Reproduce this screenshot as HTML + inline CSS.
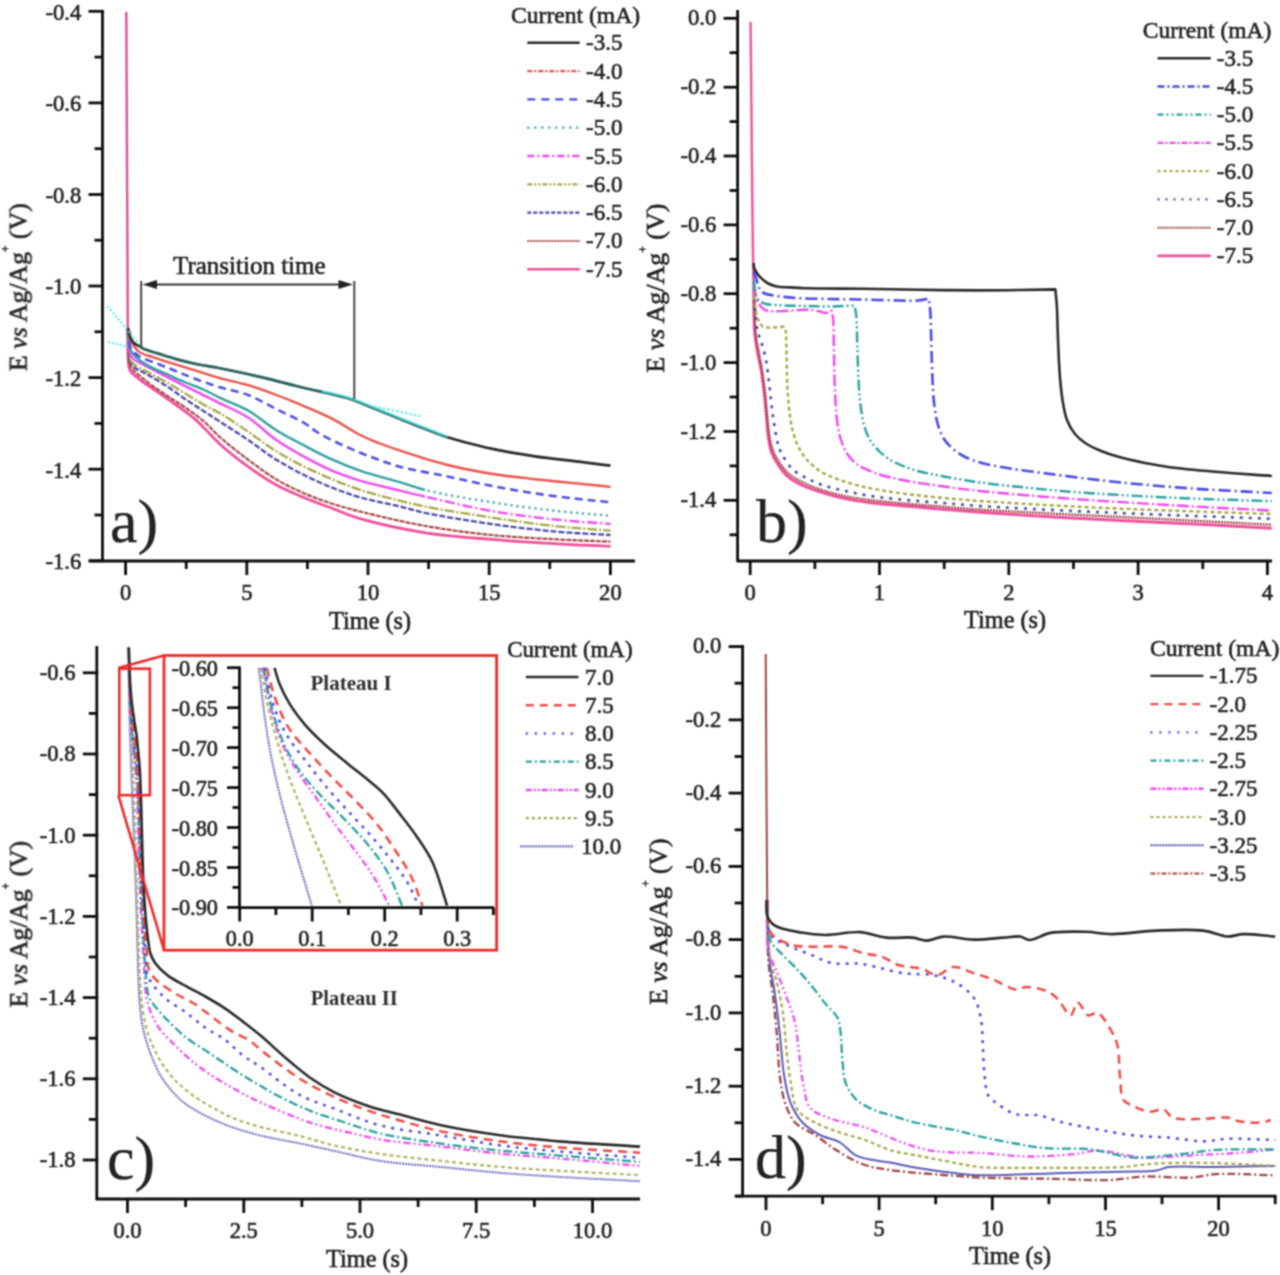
<!DOCTYPE html><html><head><meta charset="utf-8"><title>Chronopotentiometry</title>
<style>html,body{margin:0;padding:0;background:#fff;}svg{display:block;}text{font-family:"Liberation Serif", serif;stroke:#222;stroke-width:0.60px;}</style></head><body>
<svg width="1280" height="1275" viewBox="0 0 1280 1275">
<rect width="1280" height="1275" fill="#fff"/>
<defs><filter id="soft" filterUnits="userSpaceOnUse" x="0" y="0" width="1280" height="1275" color-interpolation-filters="sRGB"><feConvolveMatrix order="3" kernelMatrix="1 2 1 2 4 2 1 2 1" divisor="16" edgeMode="none"/></filter></defs>
<g filter="url(#soft)">
<line x1="102.5" y1="10.0" x2="102.5" y2="562.0" stroke="#0d0d0d" stroke-width="2.8"/>
<line x1="88.5" y1="11.3" x2="103.9" y2="11.3" stroke="#0d0d0d" stroke-width="2.8"/>
<line x1="88.5" y1="102.9" x2="103.9" y2="102.9" stroke="#0d0d0d" stroke-width="2.8"/>
<line x1="88.5" y1="194.5" x2="103.9" y2="194.5" stroke="#0d0d0d" stroke-width="2.8"/>
<line x1="88.5" y1="286.0" x2="103.9" y2="286.0" stroke="#0d0d0d" stroke-width="2.8"/>
<line x1="88.5" y1="377.6" x2="103.9" y2="377.6" stroke="#0d0d0d" stroke-width="2.8"/>
<line x1="88.5" y1="469.2" x2="103.9" y2="469.2" stroke="#0d0d0d" stroke-width="2.8"/>
<line x1="88.5" y1="560.8" x2="103.9" y2="560.8" stroke="#0d0d0d" stroke-width="2.8"/>
<line x1="94.5" y1="57.1" x2="102.5" y2="57.1" stroke="#0d0d0d" stroke-width="2.8"/>
<line x1="94.5" y1="148.7" x2="102.5" y2="148.7" stroke="#0d0d0d" stroke-width="2.8"/>
<line x1="94.5" y1="240.2" x2="102.5" y2="240.2" stroke="#0d0d0d" stroke-width="2.8"/>
<line x1="94.5" y1="331.8" x2="102.5" y2="331.8" stroke="#0d0d0d" stroke-width="2.8"/>
<line x1="94.5" y1="423.4" x2="102.5" y2="423.4" stroke="#0d0d0d" stroke-width="2.8"/>
<line x1="94.5" y1="515.0" x2="102.5" y2="515.0" stroke="#0d0d0d" stroke-width="2.8"/>
<text x="81.2" y="19.7" font-size="22.6" text-anchor="end" fill="#222">-0.4</text>
<text x="81.2" y="111.3" font-size="22.6" text-anchor="end" fill="#222">-0.6</text>
<text x="81.2" y="202.9" font-size="22.6" text-anchor="end" fill="#222">-0.8</text>
<text x="81.2" y="294.4" font-size="22.6" text-anchor="end" fill="#222">-1.0</text>
<text x="81.2" y="386.0" font-size="22.6" text-anchor="end" fill="#222">-1.2</text>
<text x="81.2" y="477.6" font-size="22.6" text-anchor="end" fill="#222">-1.4</text>
<text x="81.2" y="569.2" font-size="22.6" text-anchor="end" fill="#222">-1.6</text>
<line x1="89.0" y1="561.0" x2="635.0" y2="561.0" stroke="#0d0d0d" stroke-width="2.8"/>
<line x1="125.6" y1="561.0" x2="125.6" y2="575.0" stroke="#0d0d0d" stroke-width="2.8"/>
<line x1="246.8" y1="561.0" x2="246.8" y2="575.0" stroke="#0d0d0d" stroke-width="2.8"/>
<line x1="368.0" y1="561.0" x2="368.0" y2="575.0" stroke="#0d0d0d" stroke-width="2.8"/>
<line x1="489.2" y1="561.0" x2="489.2" y2="575.0" stroke="#0d0d0d" stroke-width="2.8"/>
<line x1="610.4" y1="561.0" x2="610.4" y2="575.0" stroke="#0d0d0d" stroke-width="2.8"/>
<line x1="186.2" y1="561.0" x2="186.2" y2="569.0" stroke="#0d0d0d" stroke-width="2.8"/>
<line x1="307.4" y1="561.0" x2="307.4" y2="569.0" stroke="#0d0d0d" stroke-width="2.8"/>
<line x1="428.6" y1="561.0" x2="428.6" y2="569.0" stroke="#0d0d0d" stroke-width="2.8"/>
<line x1="549.8" y1="561.0" x2="549.8" y2="569.0" stroke="#0d0d0d" stroke-width="2.8"/>
<text x="125.6" y="600.3" font-size="22.6" text-anchor="middle" fill="#222">0</text>
<text x="246.8" y="600.3" font-size="22.6" text-anchor="middle" fill="#222">5</text>
<text x="368.0" y="600.3" font-size="22.6" text-anchor="middle" fill="#222">10</text>
<text x="489.2" y="600.3" font-size="22.6" text-anchor="middle" fill="#222">15</text>
<text x="610.4" y="600.3" font-size="22.6" text-anchor="middle" fill="#222">20</text>
<text x="329.0" y="629.0" font-size="24.3" text-anchor="start" fill="#222">Time (s)</text>
<text transform="translate(26.7,287.1) rotate(-90)" font-size="25.8" text-anchor="middle" fill="#222">E <tspan font-style="italic">vs</tspan> Ag/Ag<tspan font-size="11.6" dy="-17.0">+</tspan><tspan dy="17.0"> (V)</tspan></text>
<text x="110.0" y="542.0" font-size="62.0" text-anchor="start" fill="#222" style="stroke-width:0.25px">a)</text>
<clipPath id="caL"><rect x="0" y="0" width="425" height="640"/></clipPath><clipPath id="caR"><rect x="425" y="0" width="215" height="640"/></clipPath>
<path d="M126.3,12 L127.2,200 L127.8,330" fill="none" stroke="#e44c98" stroke-width="2.4"/>
<path d="M127.8,328.0 C127.9,338.7 127.7,352.9 128.2,360.0 C128.4,363.6 128.5,365.8 129.2,368.0 C129.7,369.7 130.1,370.8 131.2,372.2 C132.9,374.3 135.6,376.3 138.8,378.8 C143.5,382.5 151.2,387.5 157.5,391.9 C163.7,396.3 170.0,400.5 176.2,405.0 C182.5,409.6 189.4,414.2 195.0,419.1 C200.2,423.6 204.6,428.7 209.0,433.1 C212.9,437.0 215.3,440.0 220.0,444.2 C227.1,450.6 238.6,459.8 248.1,466.7 C257.3,473.4 266.7,479.8 276.3,485.0 C285.5,490.0 295.2,493.9 304.4,497.7 C313.1,501.3 321.1,504.2 330.0,507.5 C339.6,511.1 347.9,515.1 360.0,518.6 C377.5,523.7 403.6,529.3 425.6,532.8 C447.4,536.2 469.4,537.6 491.3,539.4 C513.2,541.2 536.2,542.6 557.0,543.8 C575.7,544.9 592.7,545.5 610.5,546.4" fill="none" stroke="#f0509a" stroke-width="2.8" stroke-linejoin="round"/>
<path d="M127.8,328.0 C128.1,338.0 127.8,350.8 128.8,358.0 C129.4,362.1 129.3,364.3 131.2,367.5 C134.2,372.4 142.2,377.8 148.1,382.5 C154.1,387.2 160.6,391.4 166.9,395.6 C173.1,399.8 179.4,403.5 185.6,407.8 C191.9,412.2 198.6,416.9 204.4,421.9 C210.0,426.7 213.9,431.8 220.0,437.2 C227.9,444.2 238.6,452.6 248.1,459.7 C257.4,466.6 266.7,473.7 276.3,479.4 C285.5,484.9 295.1,489.4 304.4,493.4 C313.0,497.2 321.1,500.1 330.0,503.0 C339.5,506.1 348.0,508.5 360.0,511.5 C377.6,515.9 403.6,522.1 425.6,526.0 C447.4,529.9 469.4,532.8 491.3,535.0 C513.2,537.2 536.2,538.3 557.0,539.4 C575.7,540.4 592.7,540.9 610.5,541.6" fill="none" stroke="#a84848" stroke-width="2.2" stroke-dasharray="5 1" stroke-linejoin="round"/>
<path d="M127.8,328.0 C128.3,337.3 128.0,349.2 129.2,356.0 C129.9,360.1 130.0,362.8 132.2,365.6 C135.2,369.4 142.6,371.7 148.1,375.0 C154.1,378.6 160.7,382.2 166.9,386.2 C173.2,390.4 179.3,395.2 185.6,399.4 C191.8,403.6 198.4,407.7 204.4,411.6 C209.8,415.1 214.0,417.8 220.0,421.7 C228.0,426.9 238.8,433.7 248.1,440.0 C257.5,446.4 266.7,453.8 276.3,459.7 C285.5,465.4 294.9,470.5 304.4,475.2 C313.7,479.8 323.0,484.1 332.5,487.8 C341.8,491.5 350.4,494.6 360.6,497.5 C372.5,500.9 388.3,503.7 400.0,506.5 C409.5,508.8 415.0,510.8 425.6,513.0 C442.4,516.5 469.4,520.9 491.3,524.0 C513.2,527.1 536.2,529.8 557.0,531.7 C575.7,533.4 592.7,533.9 610.5,535.0" fill="none" stroke="#4a4aa8" stroke-width="2.3" stroke-dasharray="6 2" stroke-linejoin="round"/>
<path d="M127.8,328.0 C128.3,336.3 128.1,346.6 129.2,353.0 C129.9,357.1 129.9,359.9 132.2,362.8 C135.2,366.7 142.6,369.0 148.1,372.2 C154.1,375.6 160.7,378.9 166.9,382.5 C173.2,386.1 179.4,390.0 185.6,393.8 C191.9,397.5 198.4,401.6 204.4,405.0 C209.8,408.1 214.1,409.8 220.0,413.3 C228.1,418.1 238.8,425.3 248.1,431.6 C257.5,438.0 266.7,445.4 276.3,451.3 C285.5,457.0 294.9,462.0 304.4,466.7 C313.7,471.3 323.1,475.5 332.5,479.4 C341.8,483.3 351.2,486.9 360.6,490.0 C369.9,493.1 378.7,495.4 388.8,498.0 C400.2,501.0 411.5,503.8 425.6,506.6 C444.3,510.3 469.4,514.2 491.3,517.5 C513.2,520.8 536.2,524.1 557.0,526.3 C575.7,528.3 592.7,529.2 610.5,530.6" fill="none" stroke="#a6a648" stroke-width="2.3" stroke-dasharray="10 2 2 2" stroke-linejoin="round"/>
<path d="M127.8,328.0 C128.3,335.3 128.0,344.5 129.2,350.0 C129.9,353.4 130.3,355.8 132.2,358.1 C134.6,360.9 138.9,362.2 143.4,364.7 C149.8,368.2 159.5,373.1 166.9,376.9 C173.5,380.3 179.4,383.1 185.6,386.2 C191.9,389.4 198.4,392.6 204.4,395.6 C209.8,398.3 214.0,400.4 220.0,403.4 C228.0,407.4 239.0,411.7 248.1,417.5 C257.8,423.7 266.7,433.3 276.3,440.0 C285.5,446.4 294.9,451.7 304.4,456.9 C313.7,462.0 323.0,466.9 332.5,470.9 C341.7,474.8 350.4,477.7 360.6,480.8 C372.5,484.4 388.3,487.7 400.0,490.6 C409.4,492.9 415.1,494.3 425.6,496.7 C442.4,500.5 469.3,507.2 491.3,511.0 C513.1,514.8 536.2,517.5 557.0,519.7 C575.7,521.7 592.7,522.6 610.5,524.0" fill="none" stroke="#f048f0" stroke-width="2.4" stroke-linejoin="round" clip-path="url(#caL)"/>
<path d="M127.8,328.0 C128.3,335.3 128.0,344.5 129.2,350.0 C129.9,353.4 130.3,355.8 132.2,358.1 C134.6,360.9 138.9,362.2 143.4,364.7 C149.8,368.2 159.5,373.1 166.9,376.9 C173.5,380.3 179.4,383.1 185.6,386.2 C191.9,389.4 198.4,392.6 204.4,395.6 C209.8,398.3 214.0,400.4 220.0,403.4 C228.0,407.4 239.0,411.7 248.1,417.5 C257.8,423.7 266.7,433.3 276.3,440.0 C285.5,446.4 294.9,451.7 304.4,456.9 C313.7,462.0 323.0,466.9 332.5,470.9 C341.7,474.8 350.4,477.7 360.6,480.8 C372.5,484.4 388.3,487.7 400.0,490.6 C409.4,492.9 415.1,494.3 425.6,496.7 C442.4,500.5 469.3,507.2 491.3,511.0 C513.1,514.8 536.2,517.5 557.0,519.7 C575.7,521.7 592.7,522.6 610.5,524.0" fill="none" stroke="#f048f0" stroke-width="2.4" stroke-dasharray="10 3 2 3" stroke-linejoin="round" clip-path="url(#caR)"/>
<path d="M127.8,328.0 C128.3,334.0 127.8,341.1 129.2,346.0 C130.3,349.7 131.5,352.4 134.0,355.3 C137.2,359.1 142.9,362.6 148.1,365.6 C153.8,368.9 160.6,371.3 166.9,374.1 C173.1,376.9 179.3,379.8 185.6,382.5 C191.8,385.1 198.5,387.3 204.4,390.0 C209.9,392.5 214.0,394.9 220.0,397.8 C228.0,401.6 239.0,405.3 248.1,410.5 C257.8,416.0 266.7,424.3 276.3,430.2 C285.5,435.9 295.0,440.7 304.4,445.6 C313.7,450.5 323.0,455.5 332.5,459.7 C341.8,463.9 350.3,467.4 360.6,470.9 C372.5,475.0 388.3,478.7 400.0,482.2 C409.5,485.0 415.0,487.6 425.6,490.2 C442.3,494.3 469.4,498.7 491.3,502.2 C513.2,505.7 536.2,508.7 557.0,511.0 C575.7,513.1 592.7,514.2 610.5,515.8" fill="none" stroke="#32a0a0" stroke-width="2.4" stroke-linejoin="round" clip-path="url(#caL)"/>
<path d="M127.8,328.0 C128.3,334.0 127.8,341.1 129.2,346.0 C130.3,349.7 131.5,352.4 134.0,355.3 C137.2,359.1 142.9,362.6 148.1,365.6 C153.8,368.9 160.6,371.3 166.9,374.1 C173.1,376.9 179.3,379.8 185.6,382.5 C191.8,385.1 198.5,387.3 204.4,390.0 C209.9,392.5 214.0,394.9 220.0,397.8 C228.0,401.6 239.0,405.3 248.1,410.5 C257.8,416.0 266.7,424.3 276.3,430.2 C285.5,435.9 295.0,440.7 304.4,445.6 C313.7,450.5 323.0,455.5 332.5,459.7 C341.8,463.9 350.3,467.4 360.6,470.9 C372.5,475.0 388.3,478.7 400.0,482.2 C409.5,485.0 415.0,487.6 425.6,490.2 C442.3,494.3 469.4,498.7 491.3,502.2 C513.2,505.7 536.2,508.7 557.0,511.0 C575.7,513.1 592.7,514.2 610.5,515.8" fill="none" stroke="#32a0a0" stroke-width="2.4" stroke-dasharray="2 4" stroke-linejoin="round" clip-path="url(#caR)"/>
<path d="M127.8,328.0 C128.2,332.3 128.3,337.3 129.0,341.0 C129.6,343.9 129.8,346.4 131.2,348.8 C132.9,351.5 135.4,354.0 138.8,356.2 C143.4,359.3 151.2,361.2 157.5,363.8 C163.8,366.2 170.0,368.8 176.2,371.2 C182.5,373.8 188.3,376.3 195.0,378.8 C202.7,381.6 211.4,384.6 220.0,387.3 C229.1,390.1 238.9,391.5 248.1,395.0 C257.7,398.7 266.9,404.4 276.3,409.1 C285.7,413.8 296.8,418.5 304.4,423.1 C310.0,426.5 312.8,429.6 318.4,433.0 C326.0,437.6 337.1,442.8 346.6,447.0 C355.9,451.2 365.5,454.9 374.7,458.3 C383.3,461.5 390.2,464.1 400.0,466.7 C413.3,470.3 432.0,473.3 447.5,476.5 C462.4,479.6 476.7,483.0 491.3,485.8 C505.8,488.6 520.4,491.2 535.0,493.4 C549.6,495.6 565.4,497.5 578.8,499.0 C590.2,500.3 599.9,501.1 610.5,502.2" fill="none" stroke="#4f4fe0" stroke-width="2.6" stroke-dasharray="8 5" stroke-linejoin="round"/>
<path d="M127.8,328.0 C128.2,330.7 128.3,333.5 129.0,336.0 C129.7,338.5 130.8,340.7 132.2,343.1 C133.9,345.9 135.8,349.3 138.8,351.6 C142.3,354.3 147.5,355.3 152.8,357.2 C159.6,359.6 168.9,362.4 176.2,364.7 C182.8,366.7 188.3,368.3 195.0,370.3 C202.7,372.7 211.4,375.7 220.0,378.1 C229.1,380.7 238.8,382.4 248.1,385.2 C257.6,388.0 267.0,391.5 276.3,395.0 C285.7,398.5 295.1,402.3 304.4,406.3 C313.8,410.3 323.3,414.2 332.5,418.9 C342.0,423.8 352.0,430.9 360.6,435.2 C367.5,438.7 373.2,440.8 380.0,443.5 C387.5,446.4 394.6,448.9 403.8,451.9 C416.1,455.9 432.8,461.3 447.5,465.0 C462.0,468.6 476.7,471.4 491.3,473.8 C505.8,476.2 520.4,477.6 535.0,479.2 C549.6,480.8 565.4,482.2 578.8,483.6 C590.2,484.8 599.9,485.8 610.5,486.9" fill="none" stroke="#ec5048" stroke-width="2.4" stroke-linejoin="round"/>
<path d="M127.8,328.0 C128.1,329.0 128.4,329.8 128.8,331.0 C129.4,333.0 129.9,336.8 131.0,339.0 C131.9,340.8 133.1,342.3 134.5,343.5 C135.8,344.6 137.3,345.1 138.8,345.9 C140.3,346.8 141.4,347.8 143.4,348.8 C146.8,350.3 152.5,351.8 157.5,353.4 C163.3,355.2 170.0,357.4 176.2,359.1 C182.5,360.8 188.3,362.3 195.0,363.8 C202.7,365.4 210.6,366.4 220.0,368.3 C232.3,370.7 248.2,374.1 262.2,377.4 C276.3,380.7 290.3,384.6 304.4,388.0 C318.5,391.4 334.1,394.0 346.6,397.8 C357.0,401.0 365.3,404.9 374.7,408.6 C384.3,412.4 394.8,416.9 403.8,420.5 C411.6,423.6 418.3,426.2 425.6,429.0 C432.9,431.8 440.1,434.8 447.5,437.2 C454.9,439.6 462.6,441.6 470.0,443.5 C477.2,445.4 482.9,446.9 491.3,448.6 C503.2,451.1 520.4,454.1 535.0,456.3 C549.6,458.5 565.4,460.0 578.8,461.7 C590.2,463.1 599.9,464.4 610.5,465.7" fill="none" stroke="#2a2a2a" stroke-width="2.7" stroke-linejoin="round"/>
<path d="M107.8,306.4 L137,341.8" stroke="#50e6e6" stroke-width="2" stroke-dasharray="2 2" fill="none"/>
<path d="M107.8,341.8 L127,346.3" stroke="#50e6e6" stroke-width="2" stroke-dasharray="2 2" fill="none"/>
<path d="M138.8,345.9 C140.3,346.8 141.4,347.8 143.4,348.8 C146.8,350.3 152.5,351.8 157.5,353.4 C163.3,355.2 170.0,357.4 176.2,359.1 C182.5,360.8 188.3,362.3 195.0,363.8 C202.7,365.4 210.6,366.4 220.0,368.3 C232.3,370.7 248.2,374.1 262.2,377.4 C276.3,380.7 290.3,384.6 304.4,388.0 C318.5,391.4 334.1,394.0 346.6,397.8 C357.0,401.0 365.3,404.9 374.7,408.6 C384.3,412.4 394.8,416.9 403.8,420.5 C411.6,423.6 418.3,426.2 425.6,429.0 C432.9,431.8 440.2,434.5 447.5,437.2" fill="none" stroke="#1e9a96" stroke-width="2.2" stroke-opacity="0.55" stroke-linejoin="round"/>
<path d="M322.0,391.2 C330.2,393.1 338.2,394.4 346.6,397.0 C355.7,399.8 365.3,403.9 374.7,407.6 C384.3,411.4 394.8,415.9 403.8,419.5 C411.6,422.6 418.3,425.2 425.6,428.0 C432.9,430.8 440.2,433.7 447.5,436.5" fill="none" stroke="#48e2dc" stroke-width="2.0" stroke-opacity="0.85" stroke-linejoin="round"/>
<path d="M374,406.5 L420.4,416.3" stroke="#6ee8e4" stroke-width="2.2" stroke-dasharray="2.5 2" fill="none"/>
<line x1="141.2" y1="281" x2="141.2" y2="347" stroke="#333" stroke-width="1.8"/>
<line x1="354.3" y1="281" x2="354.3" y2="399" stroke="#333" stroke-width="1.8"/>
<line x1="150" y1="284.5" x2="346" y2="284.5" stroke="#333" stroke-width="1.8"/>
<path d="M142.5,284.5 L157,280 L157,289 Z" fill="#222"/>
<path d="M353,284.5 L338.5,280 L338.5,289 Z" fill="#222"/>
<text x="173.0" y="274.3" font-size="25.0" text-anchor="start" fill="#222">Transition time</text>
<text x="511.0" y="22.7" font-size="23.6" text-anchor="start" fill="#222">Current (mA)</text>
<line x1="527.3" y1="42.8" x2="579.7" y2="42.8" stroke="#2a2a2a" stroke-width="2.4"/>
<text x="586.0" y="50.3" font-size="23.0" text-anchor="start" fill="#222">-3.5</text>
<line x1="527.3" y1="71.1" x2="579.7" y2="71.1" stroke="#ec5048" stroke-width="2.2" stroke-dasharray="5 2 2 2"/>
<text x="586.0" y="78.6" font-size="23.0" text-anchor="start" fill="#222">-4.0</text>
<line x1="527.3" y1="99.4" x2="579.7" y2="99.4" stroke="#4a4ae6" stroke-width="2.4" stroke-dasharray="8 6"/>
<text x="586.0" y="106.9" font-size="23.0" text-anchor="start" fill="#222">-4.5</text>
<line x1="527.3" y1="127.7" x2="579.7" y2="127.7" stroke="#2aa0a0" stroke-width="2.2" stroke-dasharray="2 5"/>
<text x="586.0" y="135.2" font-size="23.0" text-anchor="start" fill="#222">-5.0</text>
<line x1="527.3" y1="156.0" x2="579.7" y2="156.0" stroke="#f048f0" stroke-width="2.4" stroke-dasharray="7 3 2 3"/>
<text x="586.0" y="163.5" font-size="23.0" text-anchor="start" fill="#222">-5.5</text>
<line x1="527.3" y1="184.3" x2="579.7" y2="184.3" stroke="#a6a648" stroke-width="2.2" stroke-dasharray="5 2 2 2 2 2"/>
<text x="586.0" y="191.8" font-size="23.0" text-anchor="start" fill="#222">-6.0</text>
<line x1="527.3" y1="212.6" x2="579.7" y2="212.6" stroke="#4848a8" stroke-width="2.4" stroke-dasharray="4 2"/>
<text x="586.0" y="220.1" font-size="23.0" text-anchor="start" fill="#222">-6.5</text>
<line x1="527.3" y1="240.9" x2="579.7" y2="240.9" stroke="#a04444" stroke-width="2.0" stroke-dasharray="2 1"/>
<text x="586.0" y="248.4" font-size="23.0" text-anchor="start" fill="#222">-7.0</text>
<line x1="527.3" y1="269.2" x2="579.7" y2="269.2" stroke="#f0509a" stroke-width="2.6"/>
<text x="586.0" y="276.7" font-size="23.0" text-anchor="start" fill="#222">-7.5</text>
<line x1="737.6" y1="10.0" x2="737.6" y2="562.0" stroke="#0d0d0d" stroke-width="2.8"/>
<line x1="723.6" y1="18.3" x2="739.0" y2="18.3" stroke="#0d0d0d" stroke-width="2.8"/>
<line x1="723.6" y1="87.2" x2="739.0" y2="87.2" stroke="#0d0d0d" stroke-width="2.8"/>
<line x1="723.6" y1="156.0" x2="739.0" y2="156.0" stroke="#0d0d0d" stroke-width="2.8"/>
<line x1="723.6" y1="224.9" x2="739.0" y2="224.9" stroke="#0d0d0d" stroke-width="2.8"/>
<line x1="723.6" y1="293.7" x2="739.0" y2="293.7" stroke="#0d0d0d" stroke-width="2.8"/>
<line x1="723.6" y1="362.6" x2="739.0" y2="362.6" stroke="#0d0d0d" stroke-width="2.8"/>
<line x1="723.6" y1="431.5" x2="739.0" y2="431.5" stroke="#0d0d0d" stroke-width="2.8"/>
<line x1="723.6" y1="500.3" x2="739.0" y2="500.3" stroke="#0d0d0d" stroke-width="2.8"/>
<line x1="729.6" y1="52.7" x2="737.6" y2="52.7" stroke="#0d0d0d" stroke-width="2.8"/>
<line x1="729.6" y1="121.6" x2="737.6" y2="121.6" stroke="#0d0d0d" stroke-width="2.8"/>
<line x1="729.6" y1="190.5" x2="737.6" y2="190.5" stroke="#0d0d0d" stroke-width="2.8"/>
<line x1="729.6" y1="259.3" x2="737.6" y2="259.3" stroke="#0d0d0d" stroke-width="2.8"/>
<line x1="729.6" y1="328.2" x2="737.6" y2="328.2" stroke="#0d0d0d" stroke-width="2.8"/>
<line x1="729.6" y1="397.0" x2="737.6" y2="397.0" stroke="#0d0d0d" stroke-width="2.8"/>
<line x1="729.6" y1="465.9" x2="737.6" y2="465.9" stroke="#0d0d0d" stroke-width="2.8"/>
<line x1="729.6" y1="534.8" x2="737.6" y2="534.8" stroke="#0d0d0d" stroke-width="2.8"/>
<text x="716.3" y="25.3" font-size="22.6" text-anchor="end" fill="#222">0.0</text>
<text x="716.3" y="94.2" font-size="22.6" text-anchor="end" fill="#222">-0.2</text>
<text x="716.3" y="163.0" font-size="22.6" text-anchor="end" fill="#222">-0.4</text>
<text x="716.3" y="231.9" font-size="22.6" text-anchor="end" fill="#222">-0.6</text>
<text x="716.3" y="300.7" font-size="22.6" text-anchor="end" fill="#222">-0.8</text>
<text x="716.3" y="369.6" font-size="22.6" text-anchor="end" fill="#222">-1.0</text>
<text x="716.3" y="438.5" font-size="22.6" text-anchor="end" fill="#222">-1.2</text>
<text x="716.3" y="507.3" font-size="22.6" text-anchor="end" fill="#222">-1.4</text>
<line x1="737.0" y1="561.0" x2="1272.0" y2="561.0" stroke="#0d0d0d" stroke-width="2.8"/>
<line x1="750.2" y1="561.0" x2="750.2" y2="575.0" stroke="#0d0d0d" stroke-width="2.8"/>
<line x1="879.5" y1="561.0" x2="879.5" y2="575.0" stroke="#0d0d0d" stroke-width="2.8"/>
<line x1="1008.8" y1="561.0" x2="1008.8" y2="575.0" stroke="#0d0d0d" stroke-width="2.8"/>
<line x1="1138.1" y1="561.0" x2="1138.1" y2="575.0" stroke="#0d0d0d" stroke-width="2.8"/>
<line x1="1267.4" y1="561.0" x2="1267.4" y2="575.0" stroke="#0d0d0d" stroke-width="2.8"/>
<line x1="814.9" y1="561.0" x2="814.9" y2="569.0" stroke="#0d0d0d" stroke-width="2.8"/>
<line x1="944.2" y1="561.0" x2="944.2" y2="569.0" stroke="#0d0d0d" stroke-width="2.8"/>
<line x1="1073.5" y1="561.0" x2="1073.5" y2="569.0" stroke="#0d0d0d" stroke-width="2.8"/>
<line x1="1202.8" y1="561.0" x2="1202.8" y2="569.0" stroke="#0d0d0d" stroke-width="2.8"/>
<text x="750.2" y="600.3" font-size="22.6" text-anchor="middle" fill="#222">0</text>
<text x="879.5" y="600.3" font-size="22.6" text-anchor="middle" fill="#222">1</text>
<text x="1008.8" y="600.3" font-size="22.6" text-anchor="middle" fill="#222">2</text>
<text x="1138.1" y="600.3" font-size="22.6" text-anchor="middle" fill="#222">3</text>
<text x="1267.4" y="600.3" font-size="22.6" text-anchor="middle" fill="#222">4</text>
<text x="964.0" y="627.5" font-size="24.3" text-anchor="start" fill="#222">Time (s)</text>
<text transform="translate(664.2,288.2) rotate(-90)" font-size="26.0" text-anchor="middle" fill="#222">E <tspan font-style="italic">vs</tspan> Ag/Ag<tspan font-size="11.7" dy="-17.2">+</tspan><tspan dy="17.2"> (V)</tspan></text>
<text x="756.0" y="542.0" font-size="62.0" text-anchor="start" fill="#222" style="stroke-width:0.25px">b)</text>
<path d="M750.6,22 L752.3,200 L753.6,300 L754.2,330" fill="none" stroke="#f0509a" stroke-width="2.4"/>
<path d="M754.0,300.0 C754.3,311.7 754.2,325.4 755.0,335.0 C755.6,341.7 756.5,346.1 757.5,352.0 C758.6,358.4 760.4,365.1 761.5,372.0 C762.7,379.4 763.6,386.8 764.5,395.0 C765.5,404.3 766.4,416.7 767.2,425.0 C767.8,430.9 768.0,435.3 768.8,440.0 C769.5,444.2 770.2,448.3 771.5,452.0 C772.8,455.5 774.2,458.4 776.4,461.9 C779.2,466.3 782.9,472.1 787.4,476.1 C792.0,480.2 797.8,483.2 803.8,486.0 C810.4,489.1 818.3,491.4 825.6,493.6 C832.8,495.8 840.2,497.6 847.5,499.1 C854.8,500.6 861.5,501.4 869.4,502.4 C878.7,503.6 889.1,504.6 900.0,505.6 C912.4,506.8 926.7,507.9 940.0,509.0 C953.3,510.1 964.8,511.2 980.0,512.3 C1000.1,513.8 1026.6,515.4 1050.0,516.8 C1073.6,518.2 1096.7,519.3 1121.0,520.5 C1146.6,521.8 1174.3,523.0 1200.0,524.3 C1224.5,525.6 1247.9,526.9 1271.8,528.2" fill="none" stroke="#f0509a" stroke-width="3.0" stroke-linejoin="round"/>
<path d="M754.0,300.0 C754.5,311.0 754.5,323.8 755.5,333.0 C756.2,339.6 757.5,344.1 758.5,350.0 C759.6,356.4 760.9,362.9 762.0,370.0 C763.2,377.9 764.3,386.5 765.3,395.0 C766.3,403.8 767.0,414.3 767.8,422.0 C768.4,427.7 768.8,432.3 769.6,437.0 C770.4,441.2 771.1,445.3 772.5,449.0 C773.8,452.6 775.2,455.5 777.4,459.0 C780.2,463.5 783.9,469.3 788.4,473.3 C793.0,477.4 798.9,480.4 804.8,483.3 C811.2,486.4 818.5,488.9 825.6,491.1 C832.7,493.3 840.2,495.1 847.5,496.6 C854.8,498.1 861.5,498.9 869.4,499.9 C878.7,501.1 889.1,502.1 900.0,503.1 C912.4,504.3 926.7,505.3 940.0,506.4 C953.3,507.5 964.8,508.6 980.0,509.6 C1000.1,511.0 1026.6,512.3 1050.0,513.5 C1073.6,514.7 1096.7,515.8 1121.0,517.0 C1146.6,518.3 1174.3,519.7 1200.0,521.0 C1224.5,522.3 1247.9,523.5 1271.8,524.7" fill="none" stroke="#9a3c3c" stroke-width="2.2" stroke-dasharray="2 1" stroke-linejoin="round"/>
<path d="M753.8,290.0 C754.7,301.7 755.2,316.7 756.5,325.0 C757.2,329.7 758.0,332.5 759.0,336.0 C760.0,339.3 761.3,342.0 762.4,345.6 C763.7,349.9 765.0,354.9 766.0,360.0 C767.1,365.6 767.7,371.7 768.5,378.0 C769.4,385.0 770.1,392.8 771.0,400.0 C771.8,406.8 772.5,413.6 773.5,420.0 C774.4,425.9 775.5,432.1 776.5,437.0 C777.2,440.7 777.6,443.6 778.6,446.6 C779.5,449.3 780.3,451.3 781.9,454.2 C784.3,458.5 788.3,465.3 792.8,469.5 C797.4,473.7 803.6,476.6 809.2,479.4 C814.6,482.1 819.7,484.1 825.6,486.0 C832.3,488.2 840.2,489.8 847.5,491.4 C854.8,493.0 861.7,494.6 869.4,495.8 C878.0,497.2 886.6,498.1 896.8,499.1 C909.6,500.4 925.9,501.6 940.0,502.8 C953.6,503.9 963.9,504.9 980.0,506.0 C1004.7,507.6 1042.7,509.5 1074.0,511.0 C1105.3,512.5 1135.9,513.7 1168.0,515.0 C1201.7,516.3 1237.2,517.5 1271.8,518.8" fill="none" stroke="#4848a8" stroke-width="2.6" stroke-dasharray="3 6" stroke-linejoin="round"/>
<path d="M753.8,290.0 C754.6,297.6 754.9,307.3 756.1,312.9 C756.8,316.2 757.5,318.3 758.7,320.6 C759.8,322.8 760.9,325.5 763.0,326.7 C765.3,328.0 769.2,327.5 772.5,327.5 C776.1,327.5 780.0,327.0 783.7,326.7 C784.3,327.8 785.1,328.4 785.5,330.0 C786.4,333.1 786.1,338.8 786.3,345.0 C786.7,355.1 786.7,373.0 787.3,385.0 C787.8,394.9 788.4,403.7 789.5,412.0 C790.4,419.2 791.3,425.8 793.0,432.0 C794.6,437.7 796.4,443.1 799.0,448.0 C801.5,452.7 804.4,457.1 808.0,461.0 C811.8,465.1 816.5,468.9 821.6,472.0 C827.1,475.3 833.7,477.7 840.0,480.0 C846.5,482.4 853.1,484.3 860.0,486.0 C867.3,487.8 874.8,489.1 882.7,490.5 C891.4,492.0 900.4,493.3 910.0,494.5 C920.7,495.8 932.4,496.9 943.9,498.0 C955.7,499.1 965.1,499.9 980.0,501.0 C1004.0,502.7 1042.7,504.9 1074.0,506.5 C1105.3,508.1 1135.9,509.3 1168.0,510.5 C1201.7,511.8 1237.2,512.8 1271.8,514.0" fill="none" stroke="#a6a648" stroke-width="2.4" stroke-dasharray="4 3" stroke-linejoin="round"/>
<path d="M753.8,285.0 C754.9,290.0 755.7,296.4 757.0,300.0 C757.8,302.2 758.4,303.5 759.6,305.1 C761.1,307.0 762.9,309.2 765.6,310.3 C769.4,311.8 775.3,311.1 781.2,311.1 C788.9,311.1 800.8,309.5 808.0,309.8 C812.8,310.0 816.7,310.9 820.0,311.5 C822.4,312.0 824.1,313.2 826.0,313.0 C827.9,312.8 829.7,311.3 831.5,310.5 C832.0,313.0 832.6,314.7 833.0,318.0 C833.7,324.2 833.5,335.1 833.8,345.0 C834.1,357.0 834.2,372.1 834.8,385.0 C835.3,397.1 835.7,410.0 837.0,420.0 C838.0,427.6 839.0,433.9 841.0,440.0 C842.8,445.5 845.0,450.7 848.0,455.0 C850.8,459.0 854.3,462.3 858.0,465.0 C861.6,467.6 865.9,469.3 870.0,471.0 C874.1,472.8 877.6,474.0 882.7,475.5 C890.0,477.6 900.4,479.7 910.0,481.5 C920.7,483.5 932.4,484.9 943.9,486.5 C955.7,488.1 965.1,489.4 980.0,491.0 C1004.0,493.5 1042.7,496.7 1074.0,499.0 C1105.3,501.3 1135.9,503.1 1168.0,505.0 C1201.7,507.0 1237.2,508.7 1271.8,510.6" fill="none" stroke="#f048f0" stroke-width="2.4" stroke-dasharray="12 3 2 3" stroke-linejoin="round"/>
<path d="M753.8,280.0 C754.4,284.0 754.7,288.6 755.5,292.0 C756.1,294.7 756.5,297.1 757.9,299.0 C759.3,300.9 761.4,302.4 763.9,303.4 C767.3,304.7 771.6,304.7 776.8,305.1 C784.9,305.8 798.5,305.8 808.0,306.0 C816.0,306.2 822.5,306.6 830.0,306.5 C837.9,306.4 846.3,305.8 854.5,305.5 C855.1,308.7 855.8,310.9 856.2,315.0 C857.0,322.2 856.9,334.6 857.3,345.0 C857.7,356.2 857.9,369.3 858.5,380.0 C859.0,389.0 859.5,397.2 860.5,405.0 C861.4,412.1 862.3,418.9 864.0,425.0 C865.5,430.4 867.3,435.5 870.0,440.0 C872.7,444.5 876.3,448.5 880.0,452.0 C883.6,455.5 887.9,458.6 892.0,461.0 C895.7,463.2 899.0,464.4 903.1,466.0 C908.1,467.9 913.8,469.9 920.0,471.5 C927.2,473.4 935.1,474.8 943.9,476.5 C954.7,478.5 967.0,480.7 980.0,482.5 C995.3,484.6 1013.9,486.4 1030.0,488.0 C1045.1,489.5 1056.6,490.7 1074.0,492.0 C1099.4,493.9 1135.9,496.0 1168.0,497.5 C1201.7,499.1 1237.2,500.0 1271.8,501.2" fill="none" stroke="#2aa0a0" stroke-width="2.4" stroke-dasharray="11 3 2 3 2 3" stroke-linejoin="round"/>
<path d="M753.6,272.0 C754.4,274.1 755.2,275.9 756.1,278.3 C757.2,281.3 758.0,286.1 759.6,288.7 C760.8,290.6 761.9,291.9 763.9,293.0 C766.9,294.7 771.9,295.2 776.8,296.0 C783.0,297.0 790.5,297.7 798.4,298.2 C807.9,298.8 819.4,298.8 830.0,299.0 C840.7,299.2 851.1,299.3 862.3,299.5 C874.4,299.8 889.7,300.4 900.0,300.5 C907.1,300.6 912.8,301.0 918.0,300.5 C922.0,300.1 925.1,299.2 928.6,298.5 C929.1,302.3 929.8,305.3 930.2,310.0 C930.9,317.6 930.9,329.6 931.2,340.0 C931.6,351.2 931.8,363.8 932.3,375.0 C932.8,385.4 933.2,396.0 934.3,405.0 C935.2,412.4 936.2,419.0 938.0,425.0 C939.6,430.2 941.4,434.9 944.0,439.0 C946.5,442.8 949.6,446.1 953.0,449.0 C956.4,451.9 960.1,454.3 964.3,456.5 C969.0,458.9 973.8,460.7 980.0,462.5 C988.3,464.9 999.2,466.7 1010.0,468.5 C1022.5,470.6 1037.2,472.2 1050.6,474.0 C1063.8,475.7 1077.6,477.5 1090.0,479.0 C1101.0,480.3 1108.7,481.3 1121.2,482.5 C1140.0,484.4 1167.5,486.8 1191.8,488.5 C1217.6,490.3 1245.1,491.5 1271.8,493.0" fill="none" stroke="#4a4ae6" stroke-width="2.6" stroke-dasharray="12 4 2 4" stroke-linejoin="round"/>
<path d="M753.5,263.0 C753.7,264.7 753.7,266.4 754.2,268.0 C754.7,269.6 755.6,271.1 756.5,272.5 C757.4,273.9 758.2,275.2 759.6,276.6 C761.7,278.7 765.2,281.8 768.2,283.5 C770.9,285.0 773.6,285.8 776.8,286.5 C780.6,287.3 785.1,287.1 789.8,287.4 C795.4,287.7 800.3,288.1 808.0,288.3 C821.3,288.7 843.9,288.6 862.3,288.8 C881.2,289.1 900.6,289.5 920.0,289.8 C939.8,290.1 962.0,290.4 980.0,290.4 C994.7,290.4 1007.1,290.2 1020.0,290.0 C1032.1,289.8 1043.5,289.6 1055.3,289.4 C1055.8,294.6 1056.4,298.8 1056.8,305.0 C1057.4,314.3 1057.5,328.1 1058.0,340.0 C1058.5,352.3 1059.1,366.7 1060.0,377.6 C1060.7,386.0 1061.3,392.8 1062.5,400.0 C1063.7,406.9 1064.7,414.1 1067.0,420.0 C1069.0,425.3 1071.7,430.0 1075.0,434.0 C1078.1,437.8 1081.8,440.8 1085.9,443.5 C1090.1,446.3 1094.7,448.3 1100.0,450.5 C1106.3,453.1 1113.9,455.5 1121.2,457.6 C1128.9,459.7 1137.1,461.4 1145.0,463.0 C1152.8,464.5 1159.1,465.8 1168.2,467.0 C1181.1,468.8 1198.9,470.4 1215.3,471.8 C1233.3,473.4 1253.0,474.6 1271.8,476.0" fill="none" stroke="#2a2a2a" stroke-width="2.6" stroke-linejoin="round"/>
<text x="1142.8" y="38.4" font-size="23.5" text-anchor="start" fill="#222">Current (mA)</text>
<line x1="1157.5" y1="58.2" x2="1210.8" y2="58.2" stroke="#2a2a2a" stroke-width="2.4"/>
<text x="1216.8" y="65.7" font-size="23.0" text-anchor="start" fill="#222">-3.5</text>
<line x1="1157.5" y1="86.5" x2="1210.8" y2="86.5" stroke="#4a4ae6" stroke-width="2.4" stroke-dasharray="7 3 2 3"/>
<text x="1216.8" y="94.0" font-size="23.0" text-anchor="start" fill="#222">-4.5</text>
<line x1="1157.5" y1="114.7" x2="1210.8" y2="114.7" stroke="#2aa0a0" stroke-width="2.2" stroke-dasharray="6 3 2 3 2 3"/>
<text x="1216.8" y="122.2" font-size="23.0" text-anchor="start" fill="#222">-5.0</text>
<line x1="1157.5" y1="142.9" x2="1210.8" y2="142.9" stroke="#f048f0" stroke-width="2.4" stroke-dasharray="6 2 2 2"/>
<text x="1216.8" y="150.4" font-size="23.0" text-anchor="start" fill="#222">-5.5</text>
<line x1="1157.5" y1="171.2" x2="1210.8" y2="171.2" stroke="#a6a648" stroke-width="2.2" stroke-dasharray="3 3"/>
<text x="1216.8" y="178.7" font-size="23.0" text-anchor="start" fill="#222">-6.0</text>
<line x1="1157.5" y1="199.4" x2="1210.8" y2="199.4" stroke="#4848a8" stroke-width="2.4" stroke-dasharray="2 6"/>
<text x="1216.8" y="206.9" font-size="23.0" text-anchor="start" fill="#222">-6.5</text>
<line x1="1157.5" y1="227.7" x2="1210.8" y2="227.7" stroke="#a04444" stroke-width="2.0" stroke-dasharray="2 1"/>
<text x="1216.8" y="235.2" font-size="23.0" text-anchor="start" fill="#222">-7.0</text>
<line x1="1157.5" y1="255.9" x2="1210.8" y2="255.9" stroke="#f0509a" stroke-width="2.8"/>
<text x="1216.8" y="263.4" font-size="23.0" text-anchor="start" fill="#222">-7.5</text>
<line x1="96.8" y1="646.0" x2="96.8" y2="1200.0" stroke="#0d0d0d" stroke-width="2.8"/>
<line x1="82.8" y1="672.8" x2="98.2" y2="672.8" stroke="#0d0d0d" stroke-width="2.8"/>
<line x1="82.8" y1="754.0" x2="98.2" y2="754.0" stroke="#0d0d0d" stroke-width="2.8"/>
<line x1="82.8" y1="835.2" x2="98.2" y2="835.2" stroke="#0d0d0d" stroke-width="2.8"/>
<line x1="82.8" y1="916.4" x2="98.2" y2="916.4" stroke="#0d0d0d" stroke-width="2.8"/>
<line x1="82.8" y1="997.6" x2="98.2" y2="997.6" stroke="#0d0d0d" stroke-width="2.8"/>
<line x1="82.8" y1="1078.8" x2="98.2" y2="1078.8" stroke="#0d0d0d" stroke-width="2.8"/>
<line x1="82.8" y1="1160.0" x2="98.2" y2="1160.0" stroke="#0d0d0d" stroke-width="2.8"/>
<line x1="88.8" y1="713.4" x2="96.8" y2="713.4" stroke="#0d0d0d" stroke-width="2.8"/>
<line x1="88.8" y1="794.6" x2="96.8" y2="794.6" stroke="#0d0d0d" stroke-width="2.8"/>
<line x1="88.8" y1="875.8" x2="96.8" y2="875.8" stroke="#0d0d0d" stroke-width="2.8"/>
<line x1="88.8" y1="957.0" x2="96.8" y2="957.0" stroke="#0d0d0d" stroke-width="2.8"/>
<line x1="88.8" y1="1038.2" x2="96.8" y2="1038.2" stroke="#0d0d0d" stroke-width="2.8"/>
<line x1="88.8" y1="1119.4" x2="96.8" y2="1119.4" stroke="#0d0d0d" stroke-width="2.8"/>
<text x="75.5" y="680.2" font-size="22.6" text-anchor="end" fill="#222">-0.6</text>
<text x="75.5" y="761.4" font-size="22.6" text-anchor="end" fill="#222">-0.8</text>
<text x="75.5" y="842.6" font-size="22.6" text-anchor="end" fill="#222">-1.0</text>
<text x="75.5" y="923.8" font-size="22.6" text-anchor="end" fill="#222">-1.2</text>
<text x="75.5" y="1005.0" font-size="22.6" text-anchor="end" fill="#222">-1.4</text>
<text x="75.5" y="1086.2" font-size="22.6" text-anchor="end" fill="#222">-1.6</text>
<text x="75.5" y="1167.4" font-size="22.6" text-anchor="end" fill="#222">-1.8</text>
<line x1="96.0" y1="1199.0" x2="640.0" y2="1199.0" stroke="#0d0d0d" stroke-width="2.8"/>
<line x1="127.5" y1="1199.0" x2="127.5" y2="1213.0" stroke="#0d0d0d" stroke-width="2.8"/>
<line x1="243.8" y1="1199.0" x2="243.8" y2="1213.0" stroke="#0d0d0d" stroke-width="2.8"/>
<line x1="360.0" y1="1199.0" x2="360.0" y2="1213.0" stroke="#0d0d0d" stroke-width="2.8"/>
<line x1="476.2" y1="1199.0" x2="476.2" y2="1213.0" stroke="#0d0d0d" stroke-width="2.8"/>
<line x1="592.5" y1="1199.0" x2="592.5" y2="1213.0" stroke="#0d0d0d" stroke-width="2.8"/>
<line x1="185.6" y1="1199.0" x2="185.6" y2="1207.0" stroke="#0d0d0d" stroke-width="2.8"/>
<line x1="301.9" y1="1199.0" x2="301.9" y2="1207.0" stroke="#0d0d0d" stroke-width="2.8"/>
<line x1="418.1" y1="1199.0" x2="418.1" y2="1207.0" stroke="#0d0d0d" stroke-width="2.8"/>
<line x1="534.4" y1="1199.0" x2="534.4" y2="1207.0" stroke="#0d0d0d" stroke-width="2.8"/>
<text x="127.5" y="1238.3" font-size="22.6" text-anchor="middle" fill="#222">0.0</text>
<text x="243.8" y="1238.3" font-size="22.6" text-anchor="middle" fill="#222">2.5</text>
<text x="360.0" y="1238.3" font-size="22.6" text-anchor="middle" fill="#222">5.0</text>
<text x="476.2" y="1238.3" font-size="22.6" text-anchor="middle" fill="#222">7.5</text>
<text x="592.5" y="1238.3" font-size="22.6" text-anchor="middle" fill="#222">10.0</text>
<text x="326.0" y="1267.3" font-size="24.3" text-anchor="start" fill="#222">Time (s)</text>
<text transform="translate(27.2,924.2) rotate(-90)" font-size="25.6" text-anchor="middle" fill="#222">E <tspan font-style="italic">vs</tspan> Ag/Ag<tspan font-size="11.5" dy="-16.9">+</tspan><tspan dy="16.9"> (V)</tspan></text>
<text x="107.0" y="1179.0" font-size="62.0" text-anchor="start" fill="#222" style="stroke-width:0.25px">c)</text>
<path d="M128.8,647.5 C128.8,656.0 128.7,664.8 128.7,672.9 C128.8,680.2 128.9,686.9 129.0,693.8 C129.2,700.5 129.3,706.8 129.4,713.7 C129.6,721.1 129.8,729.1 130.0,736.6 C130.3,744.0 130.6,751.7 130.8,758.6 C131.0,764.6 131.2,769.8 131.4,775.5 C131.7,781.4 131.8,785.4 132.1,793.7 C132.8,811.8 134.6,855.1 135.5,880.0 C136.2,898.9 136.5,913.8 137.0,930.0 C137.4,945.4 137.7,961.5 138.2,975.0 C138.6,986.0 139.1,996.4 139.8,1005.0 C140.4,1011.5 140.9,1016.7 141.8,1022.0 C142.6,1026.8 143.5,1031.0 144.7,1035.6 C146.0,1040.5 147.4,1045.3 149.4,1050.7 C151.9,1057.3 155.4,1066.1 158.8,1072.4 C161.7,1077.8 164.5,1081.9 168.2,1086.5 C172.3,1091.6 177.4,1097.3 182.4,1101.5 C186.9,1105.3 191.4,1107.9 196.5,1110.9 C202.2,1114.2 209.0,1117.5 215.3,1120.4 C221.5,1123.2 227.3,1125.6 234.1,1127.9 C242.0,1130.6 250.4,1133.0 260.0,1135.4 C271.8,1138.3 287.2,1140.8 300.0,1143.5 C311.9,1146.0 322.1,1148.2 334.4,1150.9 C348.5,1154.0 363.6,1158.3 380.0,1160.9 C398.8,1163.9 420.7,1165.0 441.0,1167.0 C461.3,1169.0 481.6,1171.3 501.9,1173.0 C522.2,1174.7 541.3,1175.8 562.8,1177.1 C587.0,1178.6 614.3,1179.8 640.0,1181.2" fill="none" stroke="#6464c0" stroke-width="2.0" stroke-dasharray="2 1" stroke-linejoin="round"/>
<path d="M128.8,647.5 C128.8,656.0 128.8,665.0 128.9,672.9 C128.9,679.6 129.1,685.5 129.3,691.8 C129.5,698.1 129.7,704.5 129.9,710.8 C130.2,716.8 130.4,722.5 130.7,728.6 C131.0,735.1 131.3,741.7 131.7,748.6 C132.1,756.2 132.5,764.8 132.9,772.5 C133.3,779.8 133.6,784.2 134.0,793.7 C134.8,812.7 135.7,855.1 136.5,880.0 C137.1,898.9 137.7,914.3 138.2,930.0 C138.7,944.1 138.9,957.6 139.5,970.0 C140.0,980.7 140.5,991.0 141.5,1000.0 C142.3,1007.4 143.2,1013.8 144.5,1020.0 C145.6,1025.6 146.8,1030.7 148.5,1035.6 C150.1,1040.2 151.9,1044.2 154.1,1048.8 C156.7,1054.2 159.7,1060.3 163.5,1065.8 C167.5,1071.6 172.3,1077.5 177.6,1082.7 C183.2,1088.2 190.1,1093.3 196.5,1097.8 C202.6,1102.1 209.0,1105.6 215.3,1109.1 C221.5,1112.5 227.2,1115.7 234.1,1118.5 C241.9,1121.7 250.4,1124.2 260.0,1126.9 C271.8,1130.2 287.2,1132.8 300.0,1136.0 C311.9,1139.0 322.1,1142.7 334.4,1145.5 C348.5,1148.7 363.7,1151.4 380.0,1153.8 C398.8,1156.6 420.7,1158.7 441.0,1160.9 C461.3,1163.1 481.6,1165.3 501.9,1167.0 C522.2,1168.7 541.3,1169.7 562.8,1171.0 C587.0,1172.4 614.3,1173.7 640.0,1175.1" fill="none" stroke="#b0b060" stroke-width="2.2" stroke-dasharray="4 3" stroke-linejoin="round"/>
<path d="M128.8,647.5 C128.9,656.0 128.8,664.7 129.0,672.9 C129.1,680.4 129.3,687.9 129.5,694.8 C129.8,701.1 130.0,707.1 130.3,712.7 C130.6,717.7 130.9,722.0 131.3,726.7 C131.7,731.3 132.1,736.0 132.6,740.6 C133.0,745.3 133.4,750.0 133.8,754.6 C134.2,759.0 134.7,763.2 135.1,767.5 C135.5,771.8 135.9,776.1 136.2,780.5 C136.5,784.9 136.8,787.4 137.1,793.7 C137.9,809.9 138.5,855.1 139.5,880.0 C140.2,898.9 141.1,913.8 142.0,930.0 C142.8,945.4 143.6,962.7 144.5,975.0 C145.1,983.5 145.2,990.2 146.3,996.5 C147.2,1001.7 148.3,1005.5 150.1,1010.3 C152.3,1015.9 155.1,1022.3 158.9,1027.8 C162.9,1033.7 168.5,1038.8 173.9,1044.2 C179.7,1050.1 186.3,1056.4 192.7,1061.7 C198.8,1066.8 205.2,1071.3 211.6,1075.5 C217.8,1079.6 224.1,1083.2 230.4,1086.8 C236.6,1090.3 243.3,1093.9 249.2,1096.9 C254.4,1099.5 257.6,1101.2 264.0,1104.0 C275.2,1108.9 295.1,1117.7 310.9,1122.8 C326.4,1127.8 345.0,1131.5 357.8,1134.5 C366.6,1136.6 370.7,1137.9 380.0,1139.5 C395.3,1142.1 420.7,1144.2 441.0,1146.6 C461.3,1149.0 481.6,1151.8 501.9,1153.8 C522.2,1155.8 541.3,1156.9 562.8,1158.8 C587.0,1160.9 614.3,1163.6 640.0,1166.0" fill="none" stroke="#f048f0" stroke-width="2.3" stroke-dasharray="7 3 2 3 2 3" stroke-linejoin="round"/>
<path d="M128.8,647.5 C128.9,656.0 128.9,664.9 129.0,672.9 C129.2,679.9 129.3,686.3 129.5,692.8 C129.8,699.0 130.0,705.2 130.3,710.8 C130.6,715.7 130.9,720.2 131.3,724.7 C131.7,728.8 132.1,732.6 132.6,736.6 C133.0,740.6 133.6,744.5 134.1,748.6 C134.6,753.1 135.2,757.9 135.7,762.5 C136.2,767.2 136.6,771.6 137.0,776.5 C137.4,781.9 137.6,785.8 137.9,793.7 C138.7,811.4 139.5,855.1 140.5,880.0 C141.3,898.9 142.1,914.3 143.0,930.0 C143.8,944.1 144.4,958.0 145.5,970.0 C146.4,979.8 146.5,990.0 148.8,996.5 C150.4,1000.8 152.5,1003.0 155.1,1006.5 C158.4,1010.9 162.9,1015.5 167.6,1020.3 C173.1,1025.9 180.0,1032.8 186.5,1037.9 C192.6,1042.7 199.0,1046.2 205.3,1050.4 C211.6,1054.6 217.8,1058.8 224.1,1063.0 C230.4,1067.2 236.7,1071.6 242.9,1075.5 C248.7,1079.1 254.4,1082.3 260.0,1085.6 C265.4,1088.7 269.4,1091.4 275.8,1094.7 C285.1,1099.5 299.1,1106.4 310.9,1111.1 C322.5,1115.7 334.5,1119.0 346.1,1122.8 C357.5,1126.5 366.9,1130.3 380.0,1133.4 C397.2,1137.5 420.6,1140.7 441.0,1143.6 C461.3,1146.5 481.6,1148.7 501.9,1150.7 C522.2,1152.7 541.3,1154.0 562.8,1155.8 C587.0,1157.8 614.3,1159.9 640.0,1161.9" fill="none" stroke="#2aa0a0" stroke-width="2.3" stroke-dasharray="9 3 2 3" stroke-linejoin="round"/>
<path d="M128.8,647.5 C128.9,656.0 128.9,665.0 129.1,672.9 C129.2,679.6 129.4,686.0 129.7,691.8 C129.9,696.8 130.1,701.1 130.4,705.7 C130.8,710.4 131.2,715.0 131.7,719.7 C132.1,724.6 132.7,730.0 133.2,734.6 C133.6,738.6 134.0,741.8 134.4,745.6 C134.9,749.8 135.5,754.3 136.0,758.6 C136.4,762.6 136.8,766.6 137.2,770.5 C137.6,774.2 137.9,777.7 138.2,781.5 C138.5,785.4 138.7,787.8 139.0,793.7 C139.7,809.4 140.5,855.1 141.5,880.0 C142.3,898.9 143.2,915.5 144.0,930.0 C144.7,941.3 145.3,951.7 146.0,960.0 C146.5,965.9 146.1,970.4 147.6,975.1 C149.1,979.7 152.0,983.7 155.1,987.7 C158.5,992.1 162.8,996.2 167.6,1000.2 C173.1,1004.7 180.3,1008.3 186.5,1012.8 C192.9,1017.5 198.9,1023.3 205.3,1027.8 C211.4,1032.1 218.0,1034.7 224.1,1039.1 C230.6,1043.8 236.6,1050.6 242.9,1055.4 C248.6,1059.7 253.2,1062.0 260.0,1066.7 C270.4,1073.9 286.0,1087.5 299.2,1094.7 C310.9,1101.1 321.9,1103.9 334.4,1108.7 C348.6,1114.1 363.5,1121.0 380.0,1125.3 C398.7,1130.2 420.7,1132.1 441.0,1135.5 C461.3,1138.9 481.6,1142.9 501.9,1145.6 C522.2,1148.3 541.3,1149.8 562.8,1151.7 C587.0,1153.9 614.3,1155.8 640.0,1157.8" fill="none" stroke="#4a4ae6" stroke-width="2.5" stroke-dasharray="3 6" stroke-linejoin="round"/>
<path d="M128.8,647.5 C128.9,656.0 129.0,665.4 129.2,672.9 C129.4,678.8 129.5,683.6 129.8,688.8 C130.0,693.9 130.3,699.0 130.7,703.7 C131.0,708.0 131.5,711.7 131.9,715.7 C132.4,720.0 132.9,724.4 133.4,728.6 C133.9,732.7 134.5,736.6 135.0,740.6 C135.4,744.6 135.9,748.5 136.3,752.6 C136.8,756.8 137.1,761.2 137.5,765.5 C137.8,769.9 138.2,774.0 138.5,778.5 C138.8,783.4 138.9,786.5 139.2,793.7 C139.9,810.7 140.9,855.1 142.0,880.0 C142.9,898.9 144.0,916.2 145.0,930.0 C145.7,939.8 146.3,947.9 147.0,955.0 C147.6,960.3 147.3,964.8 148.8,968.9 C150.2,972.7 152.0,975.6 155.1,978.9 C159.4,983.5 167.5,988.7 173.9,992.7 C180.0,996.6 186.6,998.9 192.7,1002.7 C199.1,1006.7 205.3,1011.9 211.6,1016.5 C217.9,1021.1 224.0,1026.4 230.4,1030.4 C236.5,1034.3 243.5,1036.6 249.2,1040.4 C254.6,1044.0 257.9,1047.8 264.0,1052.5 C273.2,1059.6 287.2,1070.8 299.2,1078.3 C310.7,1085.5 322.5,1091.5 334.4,1097.0 C346.0,1102.4 358.1,1107.1 369.5,1111.1 C379.9,1114.8 389.0,1117.4 400.0,1120.5 C412.6,1124.1 425.9,1128.1 441.0,1131.4 C459.2,1135.3 481.6,1138.9 501.9,1141.6 C522.2,1144.3 541.3,1145.9 562.8,1147.7 C587.0,1149.7 614.3,1151.0 640.0,1152.7" fill="none" stroke="#ee4a44" stroke-width="2.5" stroke-dasharray="9 6" stroke-linejoin="round"/>
<path d="M128.8,647.5 C129.1,656.0 129.5,666.8 129.7,672.9 C129.9,676.3 129.9,678.0 130.0,680.8 C130.2,684.0 130.4,687.4 130.7,690.8 C131.0,694.4 131.3,698.2 131.7,701.8 C132.1,705.2 132.5,708.4 132.9,711.7 C133.4,715.0 134.0,718.5 134.4,721.7 C134.9,724.5 135.3,727.1 135.7,729.7 C136.1,732.1 136.4,734.1 136.7,736.6 C137.1,739.6 137.4,743.1 137.7,746.6 C138.1,750.4 138.5,754.5 138.9,758.6 C139.2,762.8 139.6,766.6 139.9,771.5 C140.2,777.9 140.5,783.9 140.8,793.7 C141.5,813.0 142.3,857.6 143.3,880.0 C144.0,894.3 144.7,905.0 145.5,915.0 C146.1,922.6 146.9,929.5 147.5,935.0 C147.9,938.9 148.3,941.9 148.8,945.0 C149.2,947.7 149.3,949.9 150.1,952.5 C151.1,955.8 152.7,959.6 155.1,963.0 C158.1,967.2 162.7,971.7 167.6,975.4 C173.0,979.6 180.2,982.9 186.5,986.4 C192.7,989.9 199.1,993.0 205.3,996.5 C211.6,1000.1 217.9,1003.7 224.1,1007.8 C230.5,1012.0 236.8,1017.0 242.9,1021.6 C248.8,1026.1 253.7,1029.8 260.0,1035.1 C268.2,1041.9 278.6,1052.0 287.5,1059.5 C295.5,1066.3 302.9,1072.7 310.9,1078.3 C318.5,1083.6 325.6,1087.9 334.4,1092.3 C344.8,1097.4 358.1,1102.6 369.5,1106.4 C379.9,1109.9 389.1,1111.7 400.0,1114.6 C412.7,1118.0 425.9,1122.1 441.0,1125.3 C459.2,1129.2 481.6,1132.8 501.9,1135.5 C522.2,1138.2 541.3,1139.8 562.8,1141.6 C587.0,1143.6 614.3,1144.9 640.0,1146.6" fill="none" stroke="#2a2a2a" stroke-width="2.6" stroke-linejoin="round"/>
<rect x="119.3" y="668.7" width="30.6" height="126.5" fill="none" stroke="#ee2a2a" stroke-width="2.6"/>
<line x1="118.3" y1="668" x2="164" y2="655.5" stroke="#ee2a2a" stroke-width="2.6"/>
<line x1="118.3" y1="795.2" x2="164" y2="950" stroke="#ee2a2a" stroke-width="2.6"/>
<rect x="164" y="655.5" width="332.6" height="294.7" fill="#fff" stroke="#ee2a2a" stroke-width="2.8"/>
<line x1="239.5" y1="666.5" x2="239.5" y2="909" stroke="#0d0d0d" stroke-width="2.8"/>
<line x1="238" y1="907.7" x2="494" y2="907.7" stroke="#0d0d0d" stroke-width="2.8"/>
<line x1="227" y1="667.7" x2="240" y2="667.7" stroke="#0d0d0d" stroke-width="2.8"/>
<text x="218.0" y="675.7" font-size="22.3" text-anchor="end" fill="#222">-0.60</text>
<line x1="227" y1="707.7" x2="240" y2="707.7" stroke="#0d0d0d" stroke-width="2.8"/>
<text x="218.0" y="715.7" font-size="22.3" text-anchor="end" fill="#222">-0.65</text>
<line x1="227" y1="747.6" x2="240" y2="747.6" stroke="#0d0d0d" stroke-width="2.8"/>
<text x="218.0" y="755.6" font-size="22.3" text-anchor="end" fill="#222">-0.70</text>
<line x1="227" y1="787.6" x2="240" y2="787.6" stroke="#0d0d0d" stroke-width="2.8"/>
<text x="218.0" y="795.6" font-size="22.3" text-anchor="end" fill="#222">-0.75</text>
<line x1="227" y1="827.5" x2="240" y2="827.5" stroke="#0d0d0d" stroke-width="2.8"/>
<text x="218.0" y="835.5" font-size="22.3" text-anchor="end" fill="#222">-0.80</text>
<line x1="227" y1="867.5" x2="240" y2="867.5" stroke="#0d0d0d" stroke-width="2.8"/>
<text x="218.0" y="875.5" font-size="22.3" text-anchor="end" fill="#222">-0.85</text>
<line x1="227" y1="907.4" x2="240" y2="907.4" stroke="#0d0d0d" stroke-width="2.8"/>
<text x="218.0" y="915.4" font-size="22.3" text-anchor="end" fill="#222">-0.90</text>
<line x1="232.5" y1="687.7" x2="240" y2="687.7" stroke="#0d0d0d" stroke-width="2.8"/>
<line x1="232.5" y1="727.6" x2="240" y2="727.6" stroke="#0d0d0d" stroke-width="2.8"/>
<line x1="232.5" y1="767.6" x2="240" y2="767.6" stroke="#0d0d0d" stroke-width="2.8"/>
<line x1="232.5" y1="807.5" x2="240" y2="807.5" stroke="#0d0d0d" stroke-width="2.8"/>
<line x1="232.5" y1="847.5" x2="240" y2="847.5" stroke="#0d0d0d" stroke-width="2.8"/>
<line x1="232.5" y1="887.4" x2="240" y2="887.4" stroke="#0d0d0d" stroke-width="2.8"/>
<line x1="239.7" y1="907.7" x2="239.7" y2="921.5" stroke="#0d0d0d" stroke-width="2.8"/>
<text x="239.7" y="946.0" font-size="22.3" text-anchor="middle" fill="#222">0.0</text>
<line x1="312.2" y1="907.7" x2="312.2" y2="921.5" stroke="#0d0d0d" stroke-width="2.8"/>
<text x="312.2" y="946.0" font-size="22.3" text-anchor="middle" fill="#222">0.1</text>
<line x1="384.7" y1="907.7" x2="384.7" y2="921.5" stroke="#0d0d0d" stroke-width="2.8"/>
<text x="384.7" y="946.0" font-size="22.3" text-anchor="middle" fill="#222">0.2</text>
<line x1="457.2" y1="907.7" x2="457.2" y2="921.5" stroke="#0d0d0d" stroke-width="2.8"/>
<text x="457.2" y="946.0" font-size="22.3" text-anchor="middle" fill="#222">0.3</text>
<line x1="275.9" y1="907.7" x2="275.9" y2="915" stroke="#0d0d0d" stroke-width="2.8"/>
<line x1="348.4" y1="907.7" x2="348.4" y2="915" stroke="#0d0d0d" stroke-width="2.8"/>
<line x1="420.9" y1="907.7" x2="420.9" y2="915" stroke="#0d0d0d" stroke-width="2.8"/>
<line x1="493.4" y1="907.7" x2="493.4" y2="915" stroke="#0d0d0d" stroke-width="2.8"/>
<text x="310.5" y="690.0" font-size="21.0" text-anchor="start" fill="#303030" font-weight="bold" style="stroke-width:0">Plateau I</text>
<path d="M258.8,667.8 C260.4,681.5 261.9,695.5 263.7,709.0 C265.5,722.2 267.1,734.7 269.6,748.2 C272.3,762.7 275.8,778.5 279.4,793.3 C283.0,807.9 287.4,823.1 291.2,836.5 C294.6,848.3 297.6,858.5 301.0,869.8 C304.5,881.5 308.2,893.7 311.8,905.6" fill="none" stroke="#6464c0" stroke-width="2.0" stroke-dasharray="2 1" stroke-linejoin="round"/>
<path d="M260.8,667.8 C263.1,680.2 264.8,692.7 267.6,705.1 C270.4,717.6 273.9,730.2 277.5,742.4 C281.1,754.4 284.8,765.6 289.2,777.6 C293.9,790.4 299.3,803.2 304.9,816.9 C311.0,831.9 318.3,848.7 324.5,863.9 C330.3,878.2 335.6,891.7 341.2,905.6" fill="none" stroke="#b0b060" stroke-width="2.2" stroke-dasharray="4 3" stroke-linejoin="round"/>
<path d="M262.7,667.8 C265.7,682.2 268.0,697.4 271.6,711.0 C274.9,723.5 278.5,735.5 283.3,746.3 C287.7,756.3 293.2,764.7 299.0,773.7 C305.0,783.0 312.1,792.0 318.6,801.2 C325.1,810.3 331.6,819.7 338.2,828.6 C344.7,837.3 351.5,845.5 357.8,854.1 C364.0,862.5 370.2,870.9 375.5,879.6 C380.6,888.1 384.6,896.9 389.2,905.6" fill="none" stroke="#f048f0" stroke-width="2.3" stroke-dasharray="7 3 2 3 2 3" stroke-linejoin="round"/>
<path d="M263.7,667.8 C266.3,680.9 268.2,694.5 271.6,707.1 C274.8,719.3 278.5,731.6 283.3,742.4 C287.7,752.4 293.1,761.3 299.0,769.8 C304.8,778.2 311.6,785.6 318.6,793.3 C325.9,801.3 334.3,808.7 342.2,816.9 C350.6,825.6 359.9,834.9 367.6,844.3 C374.9,853.2 381.6,861.8 387.3,871.8 C393.2,882.2 397.1,894.3 402.0,905.6" fill="none" stroke="#2aa0a0" stroke-width="2.3" stroke-dasharray="9 3 2 3" stroke-linejoin="round"/>
<path d="M264.7,667.8 C267.6,680.2 269.8,693.8 273.5,705.1 C276.8,715.1 280.3,723.6 285.3,732.5 C290.6,742.0 297.9,750.8 304.9,760.0 C312.3,769.7 320.8,780.5 328.4,789.4 C335.1,797.3 341.1,803.5 348.0,811.0 C355.5,819.2 364.2,828.1 371.6,836.5 C378.5,844.4 385.1,852.2 391.2,860.0 C396.9,867.3 402.3,874.0 406.9,881.6 C411.5,889.2 414.7,897.6 418.6,905.6" fill="none" stroke="#4a4ae6" stroke-width="2.5" stroke-dasharray="3 6" stroke-linejoin="round"/>
<path d="M266.7,667.8 C269.6,678.3 271.7,689.1 275.5,699.2 C279.2,709.3 283.5,719.7 289.2,728.6 C294.7,737.3 301.8,744.3 308.8,752.2 C316.2,760.6 324.5,769.4 332.4,777.6 C340.2,785.7 348.3,793.3 355.9,801.2 C363.3,809.0 370.9,816.5 377.5,824.7 C384.0,832.8 389.5,841.6 395.1,850.2 C400.6,858.6 406.3,866.6 410.8,875.7 C415.5,885.1 418.6,895.6 422.5,905.6" fill="none" stroke="#ee4a44" stroke-width="2.5" stroke-dasharray="9 6" stroke-linejoin="round"/>
<path d="M274.5,667.8 C276.1,673.0 277.2,678.1 279.4,683.5 C281.9,689.8 285.2,696.6 289.2,703.1 C293.6,710.3 299.1,717.9 304.9,724.7 C310.8,731.6 317.5,737.9 324.5,744.3 C331.8,751.0 340.5,757.8 348.0,763.9 C354.8,769.5 361.5,774.5 367.6,779.6 C373.2,784.3 378.3,788.1 383.3,793.3 C388.8,799.0 393.7,806.0 399.0,812.9 C404.8,820.4 411.2,828.3 416.7,836.5 C422.3,844.7 427.7,852.1 432.4,862.0 C438.2,874.3 442.2,891.1 447.1,905.6" fill="none" stroke="#2a2a2a" stroke-width="2.6" stroke-linejoin="round"/>
<text x="310.7" y="1004.8" font-size="20.5" text-anchor="start" fill="#303030" font-weight="bold" style="stroke-width:0">Plateau II</text>
<text x="507.3" y="656.8" font-size="22.9" text-anchor="start" fill="#222">Current (mA)</text>
<line x1="525.8" y1="677.0" x2="578.5" y2="677.0" stroke="#2a2a2a" stroke-width="2.4"/>
<text x="585.0" y="684.5" font-size="23.0" text-anchor="start" fill="#222">7.0</text>
<line x1="525.8" y1="705.2" x2="578.5" y2="705.2" stroke="#ec5048" stroke-width="2.4" stroke-dasharray="8 6"/>
<text x="585.0" y="712.7" font-size="23.0" text-anchor="start" fill="#222">7.5</text>
<line x1="525.8" y1="733.5" x2="578.5" y2="733.5" stroke="#4a4ae6" stroke-width="2.4" stroke-dasharray="2 7"/>
<text x="585.0" y="741.0" font-size="23.0" text-anchor="start" fill="#222">8.0</text>
<line x1="525.8" y1="761.7" x2="578.5" y2="761.7" stroke="#2aa0a0" stroke-width="2.2" stroke-dasharray="6 3 2 3"/>
<text x="585.0" y="769.2" font-size="23.0" text-anchor="start" fill="#222">8.5</text>
<line x1="525.8" y1="790.0" x2="578.5" y2="790.0" stroke="#f048f0" stroke-width="2.4" stroke-dasharray="6 2 2 2 2 2"/>
<text x="585.0" y="797.5" font-size="23.0" text-anchor="start" fill="#222">9.0</text>
<line x1="525.8" y1="818.2" x2="578.5" y2="818.2" stroke="#a6a648" stroke-width="2.2" stroke-dasharray="3 3"/>
<text x="585.0" y="825.7" font-size="23.0" text-anchor="start" fill="#222">9.5</text>
<line x1="520.3" y1="846.4" x2="573.0" y2="846.4" stroke="#6464c0" stroke-width="2.2" stroke-dasharray="2 1"/>
<text x="581.1" y="853.9" font-size="23.0" text-anchor="start" fill="#222">10.0</text>
<line x1="742.6" y1="645.0" x2="742.6" y2="1197.0" stroke="#0d0d0d" stroke-width="2.8"/>
<line x1="728.6" y1="646.6" x2="744.0" y2="646.6" stroke="#0d0d0d" stroke-width="2.8"/>
<line x1="728.6" y1="719.9" x2="744.0" y2="719.9" stroke="#0d0d0d" stroke-width="2.8"/>
<line x1="728.6" y1="793.1" x2="744.0" y2="793.1" stroke="#0d0d0d" stroke-width="2.8"/>
<line x1="728.6" y1="866.4" x2="744.0" y2="866.4" stroke="#0d0d0d" stroke-width="2.8"/>
<line x1="728.6" y1="939.6" x2="744.0" y2="939.6" stroke="#0d0d0d" stroke-width="2.8"/>
<line x1="728.6" y1="1012.9" x2="744.0" y2="1012.9" stroke="#0d0d0d" stroke-width="2.8"/>
<line x1="728.6" y1="1086.2" x2="744.0" y2="1086.2" stroke="#0d0d0d" stroke-width="2.8"/>
<line x1="728.6" y1="1159.4" x2="744.0" y2="1159.4" stroke="#0d0d0d" stroke-width="2.8"/>
<line x1="734.6" y1="683.2" x2="742.6" y2="683.2" stroke="#0d0d0d" stroke-width="2.8"/>
<line x1="734.6" y1="756.5" x2="742.6" y2="756.5" stroke="#0d0d0d" stroke-width="2.8"/>
<line x1="734.6" y1="829.8" x2="742.6" y2="829.8" stroke="#0d0d0d" stroke-width="2.8"/>
<line x1="734.6" y1="903.0" x2="742.6" y2="903.0" stroke="#0d0d0d" stroke-width="2.8"/>
<line x1="734.6" y1="976.3" x2="742.6" y2="976.3" stroke="#0d0d0d" stroke-width="2.8"/>
<line x1="734.6" y1="1049.5" x2="742.6" y2="1049.5" stroke="#0d0d0d" stroke-width="2.8"/>
<line x1="734.6" y1="1122.8" x2="742.6" y2="1122.8" stroke="#0d0d0d" stroke-width="2.8"/>
<line x1="734.6" y1="1196.1" x2="742.6" y2="1196.1" stroke="#0d0d0d" stroke-width="2.8"/>
<text x="721.3" y="653.4" font-size="22.6" text-anchor="end" fill="#222">0.0</text>
<text x="721.3" y="726.7" font-size="22.6" text-anchor="end" fill="#222">-0.2</text>
<text x="721.3" y="799.9" font-size="22.6" text-anchor="end" fill="#222">-0.4</text>
<text x="721.3" y="873.2" font-size="22.6" text-anchor="end" fill="#222">-0.6</text>
<text x="721.3" y="946.4" font-size="22.6" text-anchor="end" fill="#222">-0.8</text>
<text x="721.3" y="1019.7" font-size="22.6" text-anchor="end" fill="#222">-1.0</text>
<text x="721.3" y="1093.0" font-size="22.6" text-anchor="end" fill="#222">-1.2</text>
<text x="721.3" y="1166.2" font-size="22.6" text-anchor="end" fill="#222">-1.4</text>
<line x1="736.0" y1="1196.2" x2="1276.5" y2="1196.2" stroke="#0d0d0d" stroke-width="2.8"/>
<line x1="766.0" y1="1196.2" x2="766.0" y2="1210.2" stroke="#0d0d0d" stroke-width="2.8"/>
<line x1="879.1" y1="1196.2" x2="879.1" y2="1210.2" stroke="#0d0d0d" stroke-width="2.8"/>
<line x1="992.3" y1="1196.2" x2="992.3" y2="1210.2" stroke="#0d0d0d" stroke-width="2.8"/>
<line x1="1105.5" y1="1196.2" x2="1105.5" y2="1210.2" stroke="#0d0d0d" stroke-width="2.8"/>
<line x1="1218.6" y1="1196.2" x2="1218.6" y2="1210.2" stroke="#0d0d0d" stroke-width="2.8"/>
<line x1="822.6" y1="1196.2" x2="822.6" y2="1204.2" stroke="#0d0d0d" stroke-width="2.8"/>
<line x1="935.7" y1="1196.2" x2="935.7" y2="1204.2" stroke="#0d0d0d" stroke-width="2.8"/>
<line x1="1048.9" y1="1196.2" x2="1048.9" y2="1204.2" stroke="#0d0d0d" stroke-width="2.8"/>
<line x1="1162.0" y1="1196.2" x2="1162.0" y2="1204.2" stroke="#0d0d0d" stroke-width="2.8"/>
<line x1="1275.2" y1="1196.2" x2="1275.2" y2="1204.2" stroke="#0d0d0d" stroke-width="2.8"/>
<text x="766.0" y="1235.5" font-size="22.6" text-anchor="middle" fill="#222">0</text>
<text x="879.1" y="1235.5" font-size="22.6" text-anchor="middle" fill="#222">5</text>
<text x="992.3" y="1235.5" font-size="22.6" text-anchor="middle" fill="#222">10</text>
<text x="1105.5" y="1235.5" font-size="22.6" text-anchor="middle" fill="#222">15</text>
<text x="1218.6" y="1235.5" font-size="22.6" text-anchor="middle" fill="#222">20</text>
<text x="969.0" y="1263.8" font-size="24.3" text-anchor="start" fill="#222">Time (s)</text>
<text transform="translate(667.2,921.6) rotate(-90)" font-size="25.6" text-anchor="middle" fill="#222">E <tspan font-style="italic">vs</tspan> Ag/Ag<tspan font-size="11.5" dy="-16.9">+</tspan><tspan dy="16.9"> (V)</tspan></text>
<text x="755.0" y="1177.5" font-size="62.0" text-anchor="start" fill="#222" style="stroke-width:0.25px">d)</text>
<path d="M765.7,654 L766.5,800 L767.2,900" fill="none" stroke="#a04444" stroke-width="2"/>
<path d="M767.2,900.0 C767.6,920.3 767.1,944.1 768.4,960.9 C769.3,972.8 771.2,980.5 772.5,991.4 C774.0,1004.0 775.4,1018.1 776.6,1032.0 C777.9,1046.7 778.2,1064.6 780.0,1077.5 C781.3,1087.1 782.4,1094.8 785.0,1102.5 C787.5,1109.7 790.1,1117.1 795.0,1122.5 C800.0,1128.0 808.0,1130.4 815.0,1135.0 C822.9,1140.3 831.5,1147.4 840.0,1152.5 C848.2,1157.4 856.5,1162.1 865.0,1165.0 C873.2,1167.8 879.5,1168.5 890.0,1170.0 C907.4,1172.5 943.7,1175.0 960.0,1176.2 C968.7,1176.9 971.3,1177.2 980.0,1177.6 C996.3,1178.3 1028.1,1178.4 1050.6,1178.8 C1071.1,1179.2 1092.3,1180.7 1109.4,1180.0 C1122.7,1179.5 1132.1,1177.0 1144.7,1176.5 C1159.3,1176.0 1178.8,1178.4 1191.8,1177.6 C1201.0,1177.0 1205.6,1174.7 1215.3,1174.1 C1230.7,1173.1 1255.3,1174.9 1275.3,1175.3" fill="none" stroke="#a04444" stroke-width="2.3" stroke-dasharray="8 3 2 3" stroke-linejoin="round"/>
<path d="M767.2,900.0 C768.0,920.3 767.8,944.1 769.5,960.9 C770.7,972.9 772.9,980.5 774.5,991.4 C776.3,1004.0 778.1,1018.4 779.6,1032.0 C781.1,1045.5 782.0,1061.2 783.7,1072.7 C785.0,1081.3 786.3,1088.7 788.0,1095.0 C789.3,1099.8 790.4,1103.3 792.5,1107.5 C795.0,1112.4 798.2,1118.1 802.5,1122.5 C807.2,1127.3 813.7,1131.7 820.0,1135.0 C826.2,1138.3 833.8,1139.0 840.0,1142.5 C846.3,1146.1 850.3,1153.0 857.5,1156.2 C866.3,1160.3 879.9,1160.5 890.0,1162.5 C898.9,1164.2 905.4,1165.9 915.0,1167.5 C927.8,1169.7 948.0,1172.5 960.0,1173.8 C968.0,1174.6 971.3,1175.1 980.0,1175.3 C996.3,1175.7 1027.1,1174.0 1050.6,1173.4 C1074.1,1172.8 1101.7,1172.4 1121.2,1171.8 C1135.0,1171.4 1148.0,1172.0 1156.5,1170.6 C1161.5,1169.8 1162.9,1167.9 1168.2,1167.1 C1178.6,1165.6 1198.7,1167.3 1215.3,1167.1 C1234.1,1166.9 1255.3,1166.3 1275.3,1165.9" fill="none" stroke="#5a5ab8" stroke-width="2.0" stroke-linejoin="round"/>
<path d="M767.2,900.0 C768.3,920.3 767.9,946.1 770.5,960.9 C772.0,969.6 774.7,973.8 776.6,981.3 C778.9,990.4 781.1,1000.8 782.7,1011.7 C784.6,1024.2 785.2,1039.7 786.7,1052.3 C788.0,1063.2 788.9,1073.0 790.8,1082.8 C792.6,1092.2 792.9,1103.2 797.5,1110.0 C801.5,1115.9 808.4,1118.9 815.0,1122.5 C822.4,1126.5 831.6,1129.6 840.0,1132.5 C848.3,1135.4 856.7,1137.1 865.0,1140.0 C873.4,1142.9 880.7,1147.2 890.0,1150.0 C901.1,1153.3 915.4,1155.1 927.5,1157.5 C938.7,1159.7 950.5,1162.0 960.0,1163.8 C967.5,1165.1 971.3,1166.3 980.0,1167.1 C996.3,1168.5 1027.1,1167.8 1050.6,1167.8 C1074.1,1167.8 1101.7,1168.2 1121.2,1167.1 C1135.0,1166.3 1143.2,1164.2 1156.5,1163.5 C1173.6,1162.6 1195.6,1162.7 1215.3,1163.1 C1235.2,1163.5 1255.3,1165.0 1275.3,1165.9" fill="none" stroke="#a8a850" stroke-width="2.3" stroke-dasharray="4 3" stroke-linejoin="round"/>
<path d="M767.2,900.0 C767.6,916.9 765.7,937.9 768.4,950.8 C770.2,959.3 773.8,963.9 776.6,971.1 C779.8,979.3 783.6,988.8 786.7,997.5 C789.6,1005.8 792.8,1013.2 794.8,1021.9 C797.0,1031.4 797.5,1042.2 798.9,1052.3 C800.3,1062.5 801.0,1073.2 803.0,1082.8 C804.8,1091.5 805.4,1101.6 810.0,1107.5 C814.1,1112.7 820.3,1114.6 827.5,1117.5 C837.4,1121.6 852.6,1123.4 865.0,1127.5 C877.6,1131.7 891.2,1138.5 902.5,1142.5 C911.6,1145.7 919.1,1148.3 927.5,1150.0 C935.8,1151.6 944.0,1152.0 952.5,1152.5 C961.4,1153.0 969.6,1152.4 980.0,1152.9 C993.6,1153.5 1011.3,1156.3 1027.0,1156.5 C1042.7,1156.7 1061.0,1155.4 1074.0,1154.1 C1083.2,1153.2 1088.4,1150.6 1097.6,1150.6 C1110.6,1150.6 1129.0,1156.8 1144.7,1157.6 C1160.4,1158.4 1176.1,1156.1 1191.8,1155.3 C1207.5,1154.5 1224.1,1154.0 1238.8,1152.9 C1251.7,1151.9 1263.1,1150.6 1275.3,1149.4" fill="none" stroke="#e850f0" stroke-width="2.3" stroke-dasharray="7 3 2 3 2 3" stroke-linejoin="round"/>
<path d="M767.2,900.0 C768.3,913.5 766.8,931.4 770.5,940.6 C772.8,946.3 776.7,948.5 780.6,952.8 C785.3,957.9 791.7,963.6 796.9,969.1 C801.9,974.4 806.4,979.7 811.1,985.3 C815.9,991.1 820.7,997.9 825.3,1003.6 C829.5,1008.7 835.0,1012.7 837.5,1017.8 C839.7,1022.3 839.7,1026.3 840.5,1032.0 C841.6,1040.2 841.6,1053.4 842.6,1062.5 C843.4,1070.0 843.3,1076.6 845.6,1082.8 C847.8,1088.8 851.4,1094.7 855.8,1099.1 C860.2,1103.5 866.3,1106.5 872.0,1109.2 C877.7,1111.8 883.5,1113.0 890.0,1115.0 C897.6,1117.4 905.4,1120.1 915.0,1122.5 C927.7,1125.6 948.0,1128.5 960.0,1131.2 C968.0,1133.1 972.4,1134.7 980.0,1136.5 C990.1,1138.8 1003.9,1141.5 1015.3,1143.5 C1025.8,1145.4 1035.0,1147.3 1045.9,1148.2 C1058.3,1149.3 1076.6,1148.1 1085.9,1148.9 C1091.0,1149.3 1092.7,1149.8 1097.6,1150.6 C1106.2,1152.1 1121.1,1156.8 1132.9,1157.6 C1144.6,1158.4 1157.6,1156.2 1168.2,1155.3 C1176.9,1154.6 1183.9,1153.8 1191.8,1152.9 C1199.6,1152.0 1205.6,1150.6 1215.3,1149.9 C1230.7,1148.9 1255.3,1149.6 1275.3,1149.4" fill="none" stroke="#2aa0a0" stroke-width="2.3" stroke-dasharray="9 3 2 3" stroke-linejoin="round"/>
<path d="M767.2,900.0 C768.3,911.5 765.5,926.6 770.5,934.5 C774.6,941.0 783.9,943.3 790.8,946.7 C797.4,950.0 804.3,952.1 811.1,954.8 C817.9,957.5 823.8,961.4 831.4,963.0 C840.4,964.9 851.1,962.6 861.9,964.0 C874.5,965.6 889.9,971.3 902.5,973.1 C913.3,974.7 923.9,973.5 933.0,975.2 C940.5,976.6 946.8,977.9 953.3,981.3 C960.4,985.0 969.0,991.0 973.6,997.5 C977.8,1003.4 979.2,1010.6 980.7,1017.8 C982.3,1025.5 982.1,1033.4 982.7,1042.2 C983.4,1052.7 983.5,1066.8 984.7,1076.5 C985.6,1083.7 985.5,1090.4 988.2,1095.3 C990.6,1099.5 994.7,1101.8 998.8,1104.7 C1003.5,1108.1 1009.1,1112.3 1015.3,1114.1 C1022.2,1116.1 1031.0,1114.0 1038.8,1115.3 C1046.7,1116.7 1053.7,1120.2 1062.4,1122.4 C1072.9,1125.0 1085.8,1127.2 1097.6,1129.4 C1109.3,1131.5 1121.1,1133.9 1132.9,1135.3 C1144.6,1136.7 1156.4,1136.6 1168.2,1137.6 C1180.0,1138.6 1192.9,1141.2 1203.5,1141.2 C1212.1,1141.2 1217.8,1139.2 1227.0,1138.8 C1240.2,1138.3 1259.2,1139.6 1275.3,1140.0" fill="none" stroke="#4a4ae6" stroke-width="2.5" stroke-dasharray="3 6" stroke-linejoin="round"/>
<path d="M767.2,900.0 C768.3,910.8 765.7,924.9 770.5,932.5 C774.6,938.9 783.8,942.4 790.8,944.7 C797.3,946.9 803.6,946.3 811.1,946.7 C820.2,947.1 832.6,945.4 841.6,946.7 C849.1,947.8 855.1,951.1 861.9,952.8 C868.6,954.5 875.9,954.7 882.2,956.9 C888.0,958.9 892.3,963.0 898.4,965.0 C905.6,967.3 915.9,967.1 922.8,969.1 C928.3,970.7 932.1,975.3 937.0,975.2 C942.3,975.0 947.5,967.5 953.3,967.0 C959.6,966.5 966.8,970.9 973.6,973.1 C980.4,975.3 987.3,977.3 994.1,980.0 C1001.2,982.8 1009.2,988.7 1015.3,989.4 C1019.7,989.9 1022.5,987.0 1027.0,987.0 C1033.0,987.1 1042.7,989.3 1048.2,991.8 C1052.2,993.6 1054.4,995.7 1057.6,998.8 C1061.9,1002.9 1067.1,1015.6 1070.6,1015.3 C1073.5,1015.1 1074.8,1002.7 1077.6,1002.4 C1080.6,1002.1 1084.3,1014.0 1088.2,1015.3 C1091.1,1016.3 1094.5,1011.8 1097.6,1012.9 C1102.4,1014.6 1108.4,1025.7 1111.8,1031.8 C1114.6,1036.7 1116.2,1040.2 1117.6,1045.9 C1119.5,1054.0 1118.9,1067.0 1120.0,1076.5 C1121.0,1084.9 1120.3,1095.1 1123.5,1100.0 C1125.7,1103.3 1129.2,1104.1 1132.9,1105.9 C1137.5,1108.1 1144.1,1111.3 1149.4,1111.8 C1154.2,1112.2 1159.5,1108.3 1163.5,1109.4 C1167.2,1110.5 1168.5,1115.8 1172.9,1117.6 C1179.9,1120.4 1194.0,1118.9 1203.5,1118.8 C1211.9,1118.8 1220.6,1116.8 1227.0,1117.6 C1231.7,1118.2 1234.1,1120.4 1238.8,1121.2 C1245.3,1122.3 1256.6,1123.1 1262.4,1122.4 C1265.9,1122.0 1267.9,1120.8 1270.6,1120.0" fill="none" stroke="#ee4a44" stroke-width="2.5" stroke-dasharray="9 6" stroke-linejoin="round"/>
<path d="M766.4,900.0 C766.7,905.4 765.7,911.9 767.4,916.3 C768.8,920.0 770.8,923.0 774.5,925.4 C780.2,929.2 792.3,930.9 801.0,932.5 C809.2,934.0 816.5,934.9 825.3,935.0 C835.8,935.1 849.1,931.5 859.8,932.1 C869.3,932.7 877.4,936.7 886.3,937.6 C895.1,938.5 905.3,936.8 912.7,937.6 C918.2,938.2 922.0,940.7 926.9,940.6 C932.1,940.5 936.8,937.1 943.1,936.6 C951.6,936.0 963.5,939.4 973.6,939.6 C983.6,939.8 995.0,938.2 1003.5,937.6 C1009.8,937.2 1015.3,935.8 1020.0,936.5 C1023.6,937.0 1025.6,939.9 1029.4,940.0 C1035.0,940.1 1042.5,934.3 1050.6,932.9 C1060.8,931.1 1075.1,931.5 1085.9,931.8 C1095.2,932.1 1102.0,934.0 1111.8,934.1 C1124.7,934.2 1141.4,931.2 1156.5,930.6 C1172.0,930.0 1190.6,929.0 1203.5,930.6 C1212.8,931.7 1219.8,936.1 1227.0,936.5 C1233.0,936.8 1237.1,934.3 1243.5,934.1 C1252.4,933.8 1264.7,935.7 1275.3,936.5" fill="none" stroke="#2a2a2a" stroke-width="2.6" stroke-linejoin="round"/>
<text x="1149.9" y="655.5" font-size="23.7" text-anchor="start" fill="#222">Current (mA)</text>
<line x1="1150.4" y1="675.9" x2="1203.4" y2="675.9" stroke="#2a2a2a" stroke-width="2.4"/>
<text x="1209.5" y="683.4" font-size="23.0" text-anchor="start" fill="#222">-1.75</text>
<line x1="1150.4" y1="704.1" x2="1203.4" y2="704.1" stroke="#ec5048" stroke-width="2.4" stroke-dasharray="8 6"/>
<text x="1209.5" y="711.6" font-size="23.0" text-anchor="start" fill="#222">-2.0</text>
<line x1="1150.4" y1="732.4" x2="1203.4" y2="732.4" stroke="#4a4ae6" stroke-width="2.4" stroke-dasharray="2 7"/>
<text x="1209.5" y="739.9" font-size="23.0" text-anchor="start" fill="#222">-2.25</text>
<line x1="1150.4" y1="760.6" x2="1203.4" y2="760.6" stroke="#2aa0a0" stroke-width="2.2" stroke-dasharray="6 3 2 3"/>
<text x="1209.5" y="768.1" font-size="23.0" text-anchor="start" fill="#222">-2.5</text>
<line x1="1150.4" y1="788.8" x2="1203.4" y2="788.8" stroke="#f048f0" stroke-width="2.4" stroke-dasharray="6 2 2 2 2 2"/>
<text x="1209.5" y="796.3" font-size="23.0" text-anchor="start" fill="#222">-2.75</text>
<line x1="1150.4" y1="817.0" x2="1203.4" y2="817.0" stroke="#a6a648" stroke-width="2.2" stroke-dasharray="3 3"/>
<text x="1209.5" y="824.5" font-size="23.0" text-anchor="start" fill="#222">-3.0</text>
<line x1="1150.4" y1="845.3" x2="1203.4" y2="845.3" stroke="#4848a8" stroke-width="2.0" stroke-dasharray="2 1"/>
<text x="1209.5" y="852.8" font-size="23.0" text-anchor="start" fill="#222">-3.25</text>
<line x1="1150.4" y1="873.5" x2="1203.4" y2="873.5" stroke="#a04444" stroke-width="2.2" stroke-dasharray="5 2 2 2"/>
<text x="1209.5" y="881.0" font-size="23.0" text-anchor="start" fill="#222">-3.5</text>
</g>
</svg></body></html>
